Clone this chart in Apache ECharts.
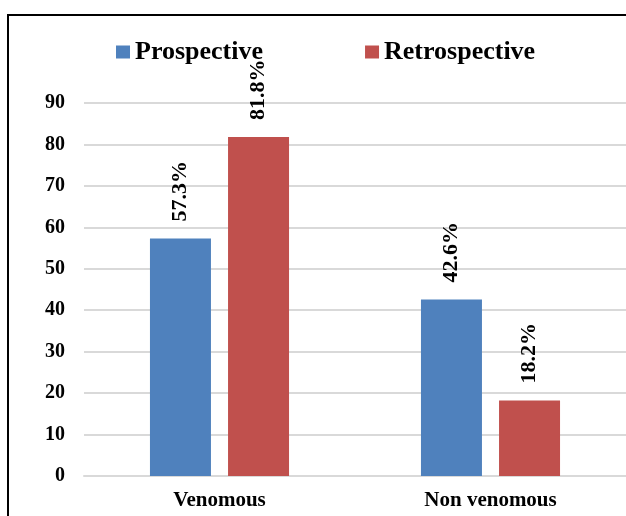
<!DOCTYPE html>
<html>
<head>
<meta charset="utf-8">
<script src="https://cdn.jsdelivr.net/npm/echarts@6/dist/echarts.min.js"></script>
<style>
  html, body { margin: 0; padding: 0; background: #fff; }
  #chart { width: 626px; height: 516px; }
</style>
</head>
<body>
<div id="chart"></div>
<script>
// Snake bite cases by type, prospective vs retrospective (%)
const categories = ['Venomous', 'Non venomous'];
const seriesNames = ['Prospective', 'Retrospective'];
const prospective = [57.3, 42.6];
const retrospective = [81.8, 18.2];
const yTicks = [0, 10, 20, 30, 40, 50, 60, 70, 80, 90];

const serif = '"Liberation Serif", "Times New Roman", serif';
const colors = ['#4F81BD', '#C0504D'];

const barLabel = {
  show: true,
  position: 'top',
  distance: 17,
  rotate: 90,
  align: 'left',
  verticalAlign: 'middle',
  formatter: p => p.value.toFixed(1) + '%',
  fontFamily: serif,
  fontWeight: 'bold',
  fontSize: 22,
  color: '#000'
};

const chart = echarts.init(document.getElementById('chart'), null, { renderer: 'canvas' });
chart.setOption({
  animation: false,
  backgroundColor: '#fff',
  graphic: [{
    type: 'rect',
    shape: { x: 8, y: 15, width: 700, height: 600 },
    style: { fill: 'none', stroke: '#000', lineWidth: 2 },
    silent: true
  }],
  legend: {
    data: seriesNames,
    left: 111,
    top: 34,
    icon: 'rect',
    itemWidth: 14,
    itemHeight: 13,
    itemGap: 102,
    textStyle: {
      fontFamily: serif,
      fontWeight: 'bold',
      fontSize: 26,
      lineHeight: 26,
      color: '#000',
      padding: [0, 0, 0, 0]
    }
  },
  grid: { left: 84, top: 103, width: 546, height: 373 },
  xAxis: {
    type: 'category',
    data: categories,
    axisLine: { show: true, lineStyle: { color: '#d9d9d9', width: 2 } },
    axisTick: { show: false },
    axisLabel: {
      margin: 14,
      fontFamily: serif,
      fontWeight: 'bold',
      fontSize: 21,
      color: '#000'
    }
  },
  yAxis: {
    type: 'value',
    min: yTicks[0],
    max: yTicks[yTicks.length - 1],
    interval: 10,
    axisLine: { show: false },
    axisTick: { show: false },
    splitLine: { lineStyle: { color: '#d9d9d9', width: 2 } },
    axisLabel: {
      margin: 19,
      fontFamily: serif,
      fontWeight: 'bold',
      fontSize: 20,
      color: '#000'
    }
  },
  series: [
    {
      name: seriesNames[0],
      type: 'bar',
      data: prospective,
      barWidth: 61,
      barGap: '28%',
      itemStyle: { color: colors[0] },
      label: barLabel
    },
    {
      name: seriesNames[1],
      type: 'bar',
      data: retrospective,
      barWidth: 61,
      barGap: '28%',
      itemStyle: { color: colors[1] },
      label: barLabel
    }
  ]
});
</script>
</body>
</html>
